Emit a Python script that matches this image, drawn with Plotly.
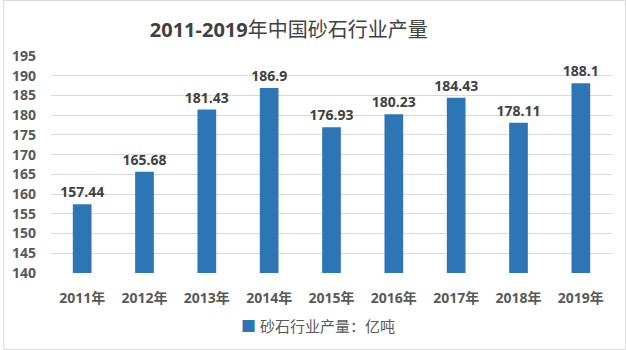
import plotly.graph_objects as go

# Annual sand & gravel output, 100 million tonnes
years = ["2011年", "2012年", "2013年", "2014年", "2015年", "2016年", "2017年", "2018年", "2019年"]
output = [157.44, 165.68, 181.43, 186.9, 176.93, 180.23, 184.43, 178.11, 188.1]
labels = ["157.44", "165.68", "181.43", "186.9", "176.93", "180.23", "184.43", "178.11", "188.1"]
series_name = "砂石行业产量：亿吨"

W, H = 626, 350
L, R, T, B = 48, 14, 56, 77
pw, ph = W - L - R, H - T - B

def px(x):
    return (x - L) / pw

def py(y):
    return (H - B - y) / ph

FONT = "Open Sans, Noto Sans CJK SC, sans-serif"
BLUE = "#2E75B6"

fig = go.Figure()
fig.add_trace(go.Bar(
    x=years,
    y=[v - 140 for v in output],
    base=140,
    name=series_name,
    marker=dict(color=BLUE, line=dict(width=0)),
    text=labels,
    textposition="outside",
    constraintext="none",
    cliponaxis=False,
    textfont=dict(family=FONT, size=14, color="#404040", weight="bold"),
    hoverinfo="skip",
    showlegend=False,
))

# bottom legend: blue square key followed by the series name
fig.add_annotation(
    xref="paper", yref="paper", x=px(316), y=py(326),
    xanchor="center", yanchor="middle", showarrow=False,
    text=f"<span style='color:{BLUE}'>■</span> {series_name}",
    font=dict(family=FONT, size=15, color="#595959"),
)

fig.update_layout(
    width=W, height=H,
    margin=dict(l=L, r=R, t=T, b=B),
    paper_bgcolor="white",
    plot_bgcolor="white",
    bargap=0.7,
    showlegend=False,
    title=dict(
        text="<b>2011-2019</b>年中国砂石行业产量",
        x=px(287), xref="paper", xanchor="center",
        y=1 - 30 / H, yanchor="middle",
        font=dict(family=FONT, size=20, color="#404040"),
    ),
    xaxis=dict(
        showgrid=False, showline=False, ticks="",
        tickfont=dict(family=FONT, size=14, color="#595959", weight="bold"),
        ticklabelstandoff=15,
    ),
    yaxis=dict(
        range=[140, 195], dtick=5, tick0=140,
        showgrid=True, gridcolor="#D9D9D9", gridwidth=1,
        zeroline=False, showline=False, ticks="",
        tickfont=dict(family=FONT, size=14, color="#595959", weight="bold"),
        ticklabelstandoff=14,
    ),
    shapes=[dict(
        type="rect", xref="paper", yref="paper",
        x0=px(0.5), x1=px(W - 0.5), y0=py(H - 0.5), y1=py(0.5),
        line=dict(color="#D9D9D9", width=1), layer="below",
    )],
)

fig.write_html("out.html")
